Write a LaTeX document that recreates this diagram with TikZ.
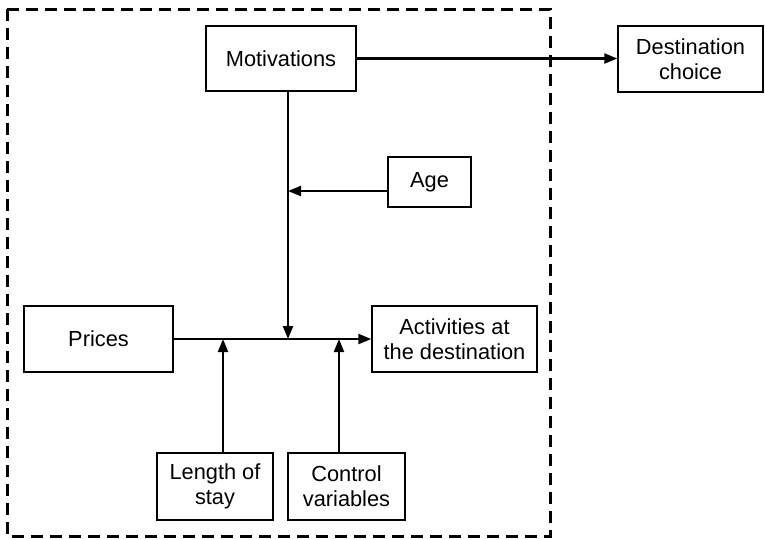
\documentclass[tikz,border=0pt]{standalone}
\usepackage{fontspec}
\setmainfont{Liberation Sans}
\usetikzlibrary{arrows.meta}
\tikzstyle{var box}=[
    draw = black,
    line width = 1.4pt,
    fill = white,
    rectangle,
    align = center,
    inner sep = 0pt,
    font = \fontsize{21.8}{25}\selectfont
]

\begin{document}
\begin{tikzpicture}[x=1pt, y=-1pt, line width=2.2pt, main/.style = {-{Triangle[length=13pt, width=10pt]}}]
        \useasboundingbox (0,0) rectangle (765,539);
        \draw[line width=3pt, dash pattern=on 12pt off 7pt] (7,9) rectangle (550,536);

        \node[var box, minimum width=150pt, minimum height=65pt] (1) at (281,58.5) {Motivations};
        \node[var box, minimum width=145pt, minimum height=66pt] (2) at (690.5,59) {Destination\\choice};
        \node[var box, minimum width=83pt, minimum height=50pt] (3) at (429.5,182) {Age};
        \node[var box, minimum width=149pt, minimum height=66pt] (4) at (98.5,339) {Prices};
        \node[var box, minimum width=165pt, minimum height=66pt] (5) at (454.5,339) {Activities at\\the destination};
        \node[var box, minimum width=116pt, minimum height=67pt] (6) at (215,486.5) {Length of\\stay};
        \node[var box, minimum width=117pt, minimum height=67pt] (7) at (346.5,486.5) {Control\\variables};

        % points on the prices line
        \coordinate (j) at (288,339);
        \coordinate (k) at (223,339);
        \coordinate (m) at (339,339);
        \coordinate (agey) at (400,191);

        \draw[main] (1.east) -- (1.east -| 2.west);
        \draw[main] (1.south -| j) -- (j);
        \draw[main] (3.west |- agey) -- (j |- agey);
        \draw[main] (4.east) -- (5.west);
        \draw[main] (6.north -| k) -- (k);
        \draw[main] (7.north -| m) -- (m);

    \end{tikzpicture}
\end{document}
